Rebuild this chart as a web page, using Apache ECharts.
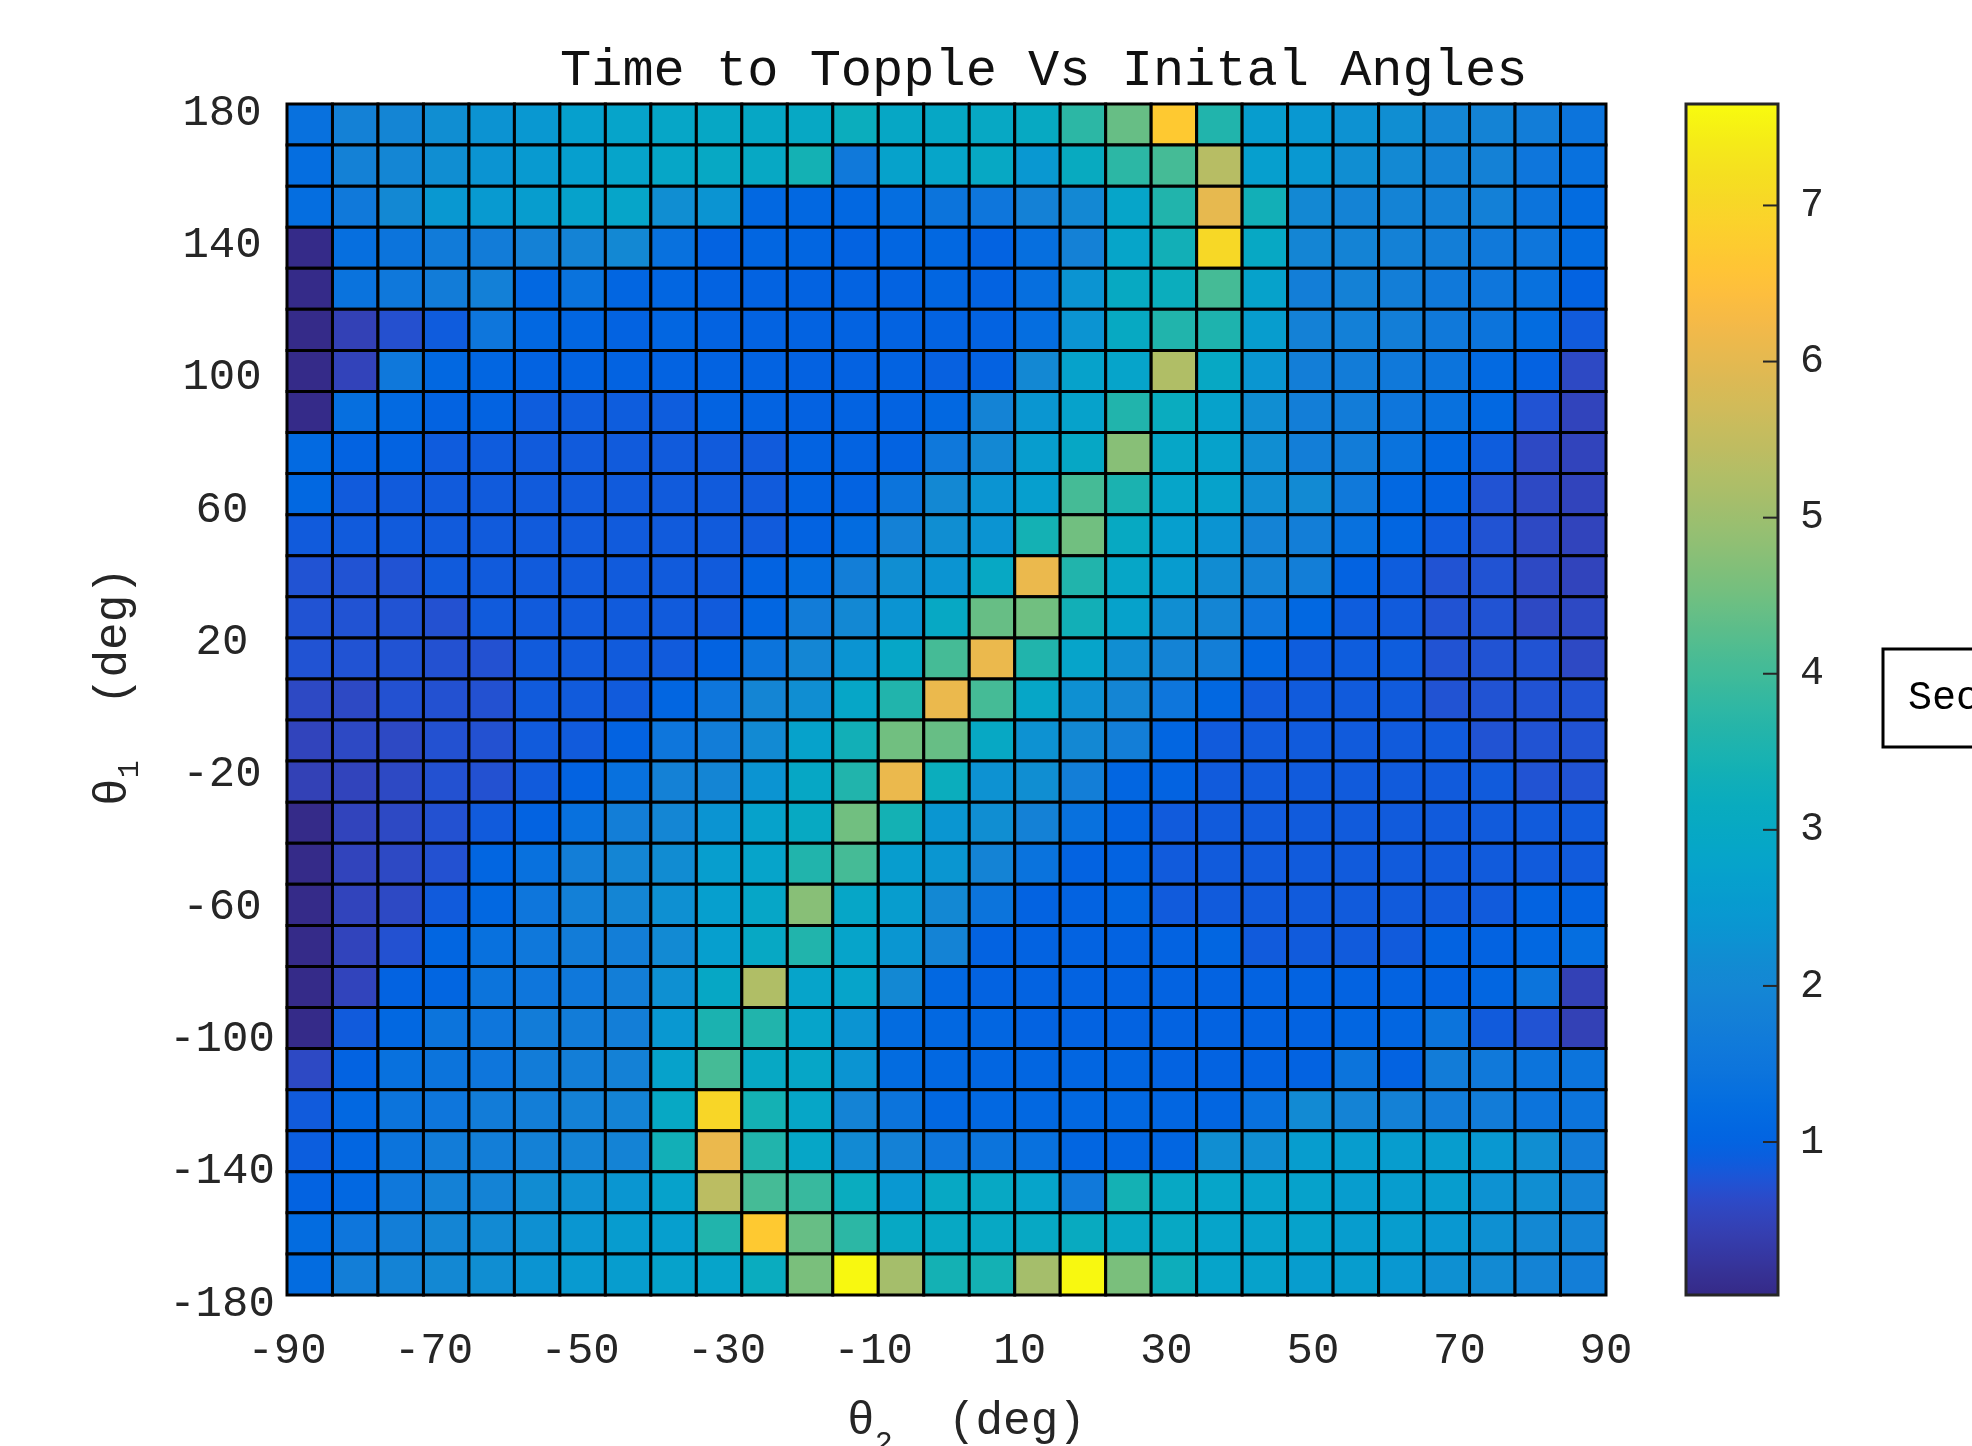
<!DOCTYPE html>
<html><head><meta charset="utf-8">
<script src="https://cdn.jsdelivr.net/npm/echarts@6/dist/echarts.min.js"></script>
<style>html,body{margin:0;padding:0;background:#fff}#c{width:1972px;height:1446px}</style>
</head><body><div id="c"></div><script>
const theta2Range = [-90, 90];
const theta1Range = [-180, 180];
const colorRange = [0.02, 7.65];
const colorbarTicks = [1, 2, 3, 4, 5, 6, 7];
const titleText = 'Time to Topple Vs Inital Angles';

// time to topple (s); rows from θ1 = 180 (top) down to θ1 = -180, 29 cells across θ2 = -90..90
const row00 = [1.35,1.84,1.96,2.2,2.32,2.44,2.68,2.8,2.9,2.95,2.95,3.0,3.2,2.95,2.95,3.0,3.05,3.75,4.4,6.7,3.6,2.6,2.45,2.3,2.2,2.0,1.9,1.72,1.45];
const row01 = [1.25,1.84,2.0,2.2,2.35,2.5,2.65,2.8,2.9,3.0,3.0,3.4,1.6,2.75,2.85,3.0,2.45,3.1,3.75,4.05,5.35,2.65,2.45,2.2,2.08,1.9,1.84,1.5,1.35];
const row02 = [1.25,1.6,2.05,2.45,2.5,2.6,2.75,2.85,2.2,2.35,1.1,1.1,1.1,1.25,1.45,1.5,1.84,2.05,2.85,3.6,6.05,3.35,2.05,1.9,1.9,1.84,1.8,1.45,1.2];
const row03 = [0.04,1.3,1.45,1.65,1.7,1.84,1.9,2.05,1.35,1.0,1.05,1.05,1.0,1.05,1.1,1.0,1.3,1.84,2.85,3.35,7.05,3.0,1.96,1.9,1.84,1.75,1.6,1.5,1.2];
const row04 = [0.04,1.4,1.55,1.7,1.8,1.1,1.4,1.05,1.05,1.0,1.0,1.0,1.0,1.0,1.05,1.0,1.3,2.35,3.05,3.2,4.05,2.75,1.75,1.84,1.75,1.6,1.5,1.35,1.0];
const row05 = [0.04,0.47,0.7,0.87,1.5,1.1,1.05,1.0,1.05,1.0,1.0,1.0,1.0,1.0,1.0,1.0,1.25,2.35,3.05,3.6,3.55,2.6,1.84,1.8,1.75,1.6,1.45,1.2,0.85];
const row06 = [0.04,0.5,1.55,1.1,1.05,1.0,1.0,1.0,1.0,1.0,1.0,0.98,0.98,1.0,0.95,0.98,2.05,2.75,2.8,5.25,3.0,2.4,1.75,1.7,1.6,1.45,1.15,0.98,0.6];
const row07 = [0.04,1.3,1.15,1.0,1.0,0.88,0.88,0.88,0.88,1.0,1.0,0.98,1.0,1.0,1.1,1.9,2.4,2.75,3.6,3.15,2.75,2.2,1.75,1.7,1.5,1.35,1.1,0.74,0.52];
const row08 = [1.15,1.0,1.0,0.87,0.87,0.85,0.85,0.85,0.85,0.85,0.85,1.0,1.0,1.0,1.55,2.05,2.6,2.95,4.75,2.9,2.75,2.2,1.75,1.7,1.4,1.1,0.88,0.6,0.52];
const row09 = [1.1,0.85,0.85,0.85,0.85,0.85,0.85,0.85,0.85,0.85,0.85,1.0,1.0,1.45,2.05,2.35,2.65,4.05,3.5,2.85,2.75,2.2,2.1,1.6,1.1,1.0,0.74,0.6,0.52];
const row10 = [0.85,0.85,0.85,0.85,0.85,0.85,0.85,0.85,0.85,0.85,0.85,1.0,1.2,1.84,2.2,2.35,3.4,4.5,3.05,2.65,2.35,1.9,1.75,1.35,1.05,0.87,0.74,0.6,0.52];
const row11 = [0.74,0.74,0.74,0.85,0.85,0.85,0.85,0.85,0.85,0.85,1.0,1.25,1.75,2.2,2.35,3.0,6.1,3.6,2.9,2.55,2.15,1.9,1.75,1.0,0.88,0.74,0.74,0.6,0.52];
const row12 = [0.74,0.74,0.74,0.72,0.85,0.85,0.85,0.85,0.85,0.85,1.05,1.7,2.05,2.35,3.0,4.4,4.5,3.35,2.75,2.2,1.96,1.5,1.1,0.88,0.85,0.74,0.74,0.6,0.6];
const row13 = [0.74,0.74,0.74,0.72,0.72,0.85,0.85,0.85,0.85,1.0,1.45,2.0,2.35,2.9,4.05,6.1,3.6,2.8,2.2,1.9,1.75,1.1,0.88,0.88,0.88,0.74,0.74,0.74,0.6];
const row14 = [0.6,0.6,0.72,0.72,0.72,0.85,0.85,0.85,1.05,1.5,1.96,2.2,2.9,3.6,6.1,4.05,2.9,2.25,1.96,1.5,1.1,0.85,0.85,0.85,0.85,0.74,0.74,0.74,0.74];
const row15 = [0.52,0.6,0.6,0.72,0.72,0.85,0.85,1.0,1.5,1.72,2.1,2.75,3.35,4.5,4.4,3.0,2.3,2.05,1.75,1.05,0.85,0.85,0.85,0.85,0.85,0.85,0.74,0.74,0.74];
const row16 = [0.47,0.52,0.6,0.72,0.72,0.85,1.0,1.35,1.84,1.95,2.35,2.95,3.6,6.1,3.2,2.3,2.2,1.75,1.05,1.0,0.85,0.85,0.85,0.85,0.85,0.85,0.85,0.74,0.74];
const row17 = [0.04,0.52,0.6,0.72,0.85,1.0,1.35,1.75,2.0,2.35,2.75,3.05,4.5,3.4,2.4,2.2,1.84,1.35,1.0,0.85,0.85,0.85,0.85,0.85,0.85,0.85,0.85,0.85,0.85];
const row18 = [0.04,0.52,0.6,0.72,1.05,1.35,1.75,1.96,2.15,2.62,2.8,3.6,4.05,2.6,2.4,1.9,1.4,1.0,1.0,0.85,0.85,0.85,0.85,0.85,0.85,0.85,0.85,0.85,0.85];
const row19 = [0.04,0.52,0.6,0.85,1.1,1.5,1.8,1.96,2.25,2.65,2.9,4.75,2.9,2.6,2.05,1.45,1.0,1.0,1.05,0.85,0.85,0.85,0.85,0.85,0.85,0.85,0.85,1.0,1.0];
const row20 = [0.04,0.52,0.72,1.05,1.35,1.55,1.7,1.75,2.1,2.65,3.0,3.6,2.8,2.4,1.9,1.0,1.0,1.0,1.0,1.0,1.05,0.85,0.85,0.85,0.85,1.0,1.0,1.1,1.25];
const row21 = [0.04,0.52,1.0,1.05,1.45,1.5,1.55,1.75,2.25,2.95,5.25,2.8,2.8,2.05,1.1,1.0,1.0,1.0,1.0,1.0,1.0,1.0,1.0,1.0,1.0,1.0,1.05,1.45,0.47];
const row22 = [0.04,0.85,1.1,1.45,1.5,1.7,1.7,1.75,2.45,3.5,3.6,2.8,2.35,1.2,1.1,1.05,1.0,1.0,1.0,1.0,1.0,1.0,1.0,1.05,1.05,1.45,0.85,0.74,0.47];
const row23 = [0.6,1.0,1.35,1.45,1.5,1.7,1.75,1.84,2.75,4.05,3.0,2.9,2.35,1.2,1.1,1.05,1.05,1.05,1.05,1.0,1.0,1.0,1.0,1.45,1.0,1.7,1.6,1.45,1.45];
const row24 = [0.85,1.1,1.45,1.5,1.7,1.75,1.84,1.9,3.0,7.0,3.4,2.9,1.9,1.45,1.1,1.1,1.1,1.1,1.1,1.05,1.05,1.35,2.1,1.9,1.84,1.7,1.7,1.45,1.45];
const row25 = [0.9,1.05,1.45,1.7,1.75,1.84,1.9,1.9,3.35,6.1,3.6,2.9,2.1,1.84,1.5,1.45,1.35,1.05,1.05,1.05,2.2,2.2,2.6,2.6,2.6,2.6,2.45,2.2,1.7];
const row26 = [1.0,1.1,1.55,1.84,1.9,2.15,2.25,2.4,2.75,5.4,4.05,3.9,3.15,2.45,3.0,3.0,2.8,1.6,3.4,3.0,2.85,2.75,2.75,2.6,2.6,2.6,2.3,2.2,1.9];
const row27 = [1.2,1.5,1.75,1.96,2.1,2.25,2.4,2.55,2.65,3.6,6.7,4.4,3.75,3.0,3.0,3.0,3.0,3.1,3.0,3.0,2.8,2.75,2.75,2.6,2.6,2.45,2.25,2.05,1.9];
const row28 = [1.2,1.75,1.9,2.05,2.2,2.35,2.5,2.6,2.75,2.8,3.15,4.6,7.6,5.1,3.4,3.4,5.1,7.6,4.6,3.25,2.8,2.75,2.6,2.6,2.45,2.25,2.1,1.9,1.75];
const rows = [row00,row01,row02,row03,row04,row05,row06,row07,row08,row09,row10,row11,row12,row13,row14,row15,row16,row17,row18,row19,row20,row21,row22,row23,row24,row25,row26,row27,row28];

const parula = ['#352A87','#363093','#3637A0','#353DAD','#3243BA','#2C4AC7','#2053D4','#0F5CDD','#0363E1','#0268E1','#046DE0','#0871DE','#0D75DC','#1079DA','#127DD8','#1481D6','#1485D4','#1389D3','#108ED2','#0C93D2','#0998D1','#079CCF','#06A0CD','#06A4CA','#06A7C6','#07A9C2','#0AACBE','#0FAEB9','#15B1B4','#1DB3AF','#25B5A9','#2EB7A4','#38B99E','#42BB98','#4DBC92','#59BD8C','#65BE86','#71BF80','#7CBF7B','#87BF77','#92BF73','#9CBF6F','#A5BE6B','#AEBE67','#B7BD64','#C0BC60','#C8BC5D','#D1BB59','#D9BA56','#E1B952','#E9B94E','#F1B94A','#F8BB44','#FDBE3D','#FFC337','#FEC832','#FCCE2E','#FAD32A','#F7D826','#F5DE21','#F5E41D','#F5EB18','#F6F313','#F9FB0E'];

const nCols = row00.length, nRows = rows.length;
const dx = (theta2Range[1] - theta2Range[0]) / nCols;
const dy = (theta1Range[1] - theta1Range[0]) / nRows;
const cells = [];
rows.forEach((row, r) => row.forEach((v, c) => {
  const x0 = theta2Range[0] + c * dx;
  const yTop = theta1Range[1] - r * dy;
  cells.push([x0, x0 + dx, yTop - dy, yTop, v]);
}));

const FONT = 'Liberation Mono';
const TXT = '#262626';
const chart = echarts.init(document.getElementById('c'), null, {renderer: 'canvas'});
chart.setOption({
  animation: false,
  backgroundColor: '#ffffff',
  title: {
    text: titleText, left: 555, top: 40,
    textStyle: {fontFamily: FONT, fontSize: 52, fontWeight: 'normal', color: '#111'}
  },
  grid: [
    {left: 287, top: 104, width: 1319, height: 1191, outerBoundsMode: 'none', containLabel: false},
    {left: 1686, top: 104, width: 92, height: 1191, outerBoundsMode: 'none', containLabel: false}
  ],
  xAxis: [{
    type: 'value', gridIndex: 0, min: theta2Range[0], max: theta2Range[1], interval: 20,
    axisLine: {show: true, onZero: false, lineStyle: {color: '#000', width: 2}},
    axisTick: {show: false}, splitLine: {show: false},
    axisLabel: {fontFamily: FONT, fontSize: 44, color: TXT, margin: 34},
    name: '{t|θ}{s|2}{t|  (deg)}', nameLocation: 'middle', nameGap: 104,
    nameTextStyle: {padding: [0, 0, 0, 40], rich: {
      t: {fontFamily: FONT, fontSize: 46, color: TXT, verticalAlign: 'top', lineHeight: 50},
      s: {fontFamily: FONT, fontSize: 30, color: TXT, verticalAlign: 'top', lineHeight: 32, padding: [30, 0, 0, 0]}
    }}
  }, {
    type: 'value', gridIndex: 1, min: 0, max: 1, show: false
  }],
  yAxis: [{
    type: 'value', gridIndex: 0, min: theta1Range[0], max: theta1Range[1], interval: 40,
    axisLine: {show: true, onZero: false, lineStyle: {color: '#000', width: 2}},
    axisTick: {show: false}, splitLine: {show: false},
    axisLabel: {
      fontFamily: FONT, fontSize: 44, color: TXT, margin: 65, align: 'center',
      formatter: '{v|{value}}',
      rich: {v: {fontFamily: FONT, fontSize: 44, color: TXT, padding: [18, 0, 0, 0]}}
    },
    name: '{t|θ}{s|1}{t|  (deg)}', nameLocation: 'middle', nameGap: 146, nameRotate: 90,
    nameTextStyle: {padding: [0, 0, 0, 26], rich: {
      t: {fontFamily: FONT, fontSize: 46, color: TXT, verticalAlign: 'top', lineHeight: 50},
      s: {fontFamily: FONT, fontSize: 30, color: TXT, verticalAlign: 'top', lineHeight: 32, padding: [24, 0, 0, 0]}
    }}
  }, {
    type: 'value', gridIndex: 1, position: 'right', min: colorRange[0], max: colorRange[1],
    axisLine: {show: false}, splitLine: {show: false}, axisTick: {show: false},
    axisLabel: {fontFamily: FONT, fontSize: 40, color: TXT, margin: 22, customValues: colorbarTicks}
  }],
  visualMap: {
    type: 'continuous', seriesIndex: 0, dimension: 4,
    min: colorRange[0], max: colorRange[1],
    inRange: {color: parula},
    left: 1686, top: 104, itemWidth: 92, itemHeight: 1191,
    calculable: false, text: null, padding: 0, hoverLink: false
  },
  graphic: [
    {type: 'rect', z: 100, shape: {x: 1686, y: 104, width: 92, height: 1191},
     style: {fill: 'none', stroke: TXT, lineWidth: 3}},
    {type: 'rect', z: 100, shape: {x: 1883, y: 649, width: 300, height: 98},
     style: {fill: '#fff', stroke: '#000', lineWidth: 3}},
    {type: 'text', z: 101, x: 1908, y: 698,
     style: {text: 'Seconds', font: '40px "Liberation Mono"', fill: '#000', verticalAlign: 'middle'}}
  ],
  series: [{
    type: 'custom', xAxisIndex: 0, yAxisIndex: 0, silent: true,
    encode: {x: [0, 1], y: [2, 3]},
    data: cells,
    renderItem: function (params, api) {
      const p0 = api.coord([api.value(0), api.value(3)]);
      const p1 = api.coord([api.value(1), api.value(2)]);
      return {
        type: 'rect',
        shape: {x: p0[0], y: p0[1], width: p1[0] - p0[0], height: p1[1] - p0[1]},
        style: {fill: api.visual('color'), stroke: '#000', lineWidth: 3}
      };
    }
  }, {
    type: 'custom', xAxisIndex: 1, yAxisIndex: 1, silent: true, z: 50,
    data: colorbarTicks.map(v => [1, v]),
    renderItem: function (params, api) {
      const p = api.coord([api.value(0), api.value(1)]);
      return {
        type: 'line', z2: 50,
        shape: {x1: p[0] - 15, y1: p[1], x2: p[0], y2: p[1]},
        style: {stroke: TXT, lineWidth: 2}
      };
    }
  }]
});
</script></body></html>
